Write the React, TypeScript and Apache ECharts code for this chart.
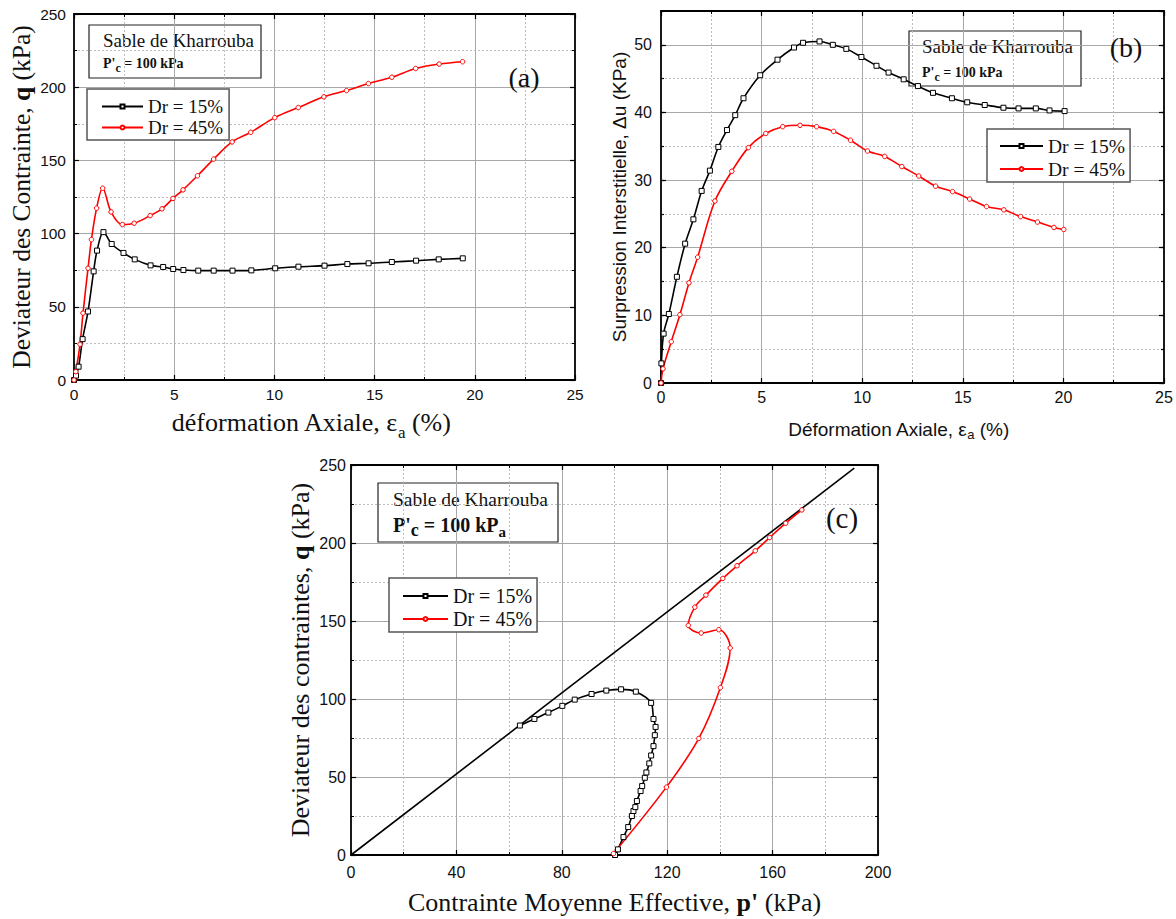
import React, { useEffect, useRef } from 'react';
import * as echarts from 'echarts';

// ---------- (a) Deviator stress vs axial strain ----------
const A_STRAIN_15 = [0, 0.1, 0.23, 0.43, 0.7, 0.98, 1.15, 1.47, 1.88, 2.47, 3.03, 3.82, 4.45, 4.95, 5.46, 6.2, 6.97, 7.91, 8.85, 10.04, 11.2, 12.5, 13.64, 14.7, 15.86, 17.07, 18.2, 19.4];
const A_Q_15 = [0, 3, 9.1, 27.9, 46.8, 74.2, 88.4, 101, 92.9, 86.8, 82.4, 78.3, 77.2, 75.8, 75.1, 74.7, 74.7, 74.7, 74.9, 76.3, 77.4, 78.1, 79.2, 79.7, 80.6, 81.5, 82.4, 83.1];
const A_STRAIN_45 = [0, 0.09, 0.3, 0.45, 0.7, 0.87, 1.13, 1.43, 1.85, 2.41, 3.0, 3.8, 4.39, 4.94, 5.44, 6.16, 6.97, 7.89, 8.82, 10.02, 11.19, 12.47, 13.6, 14.69, 15.86, 17.05, 18.22, 19.39];
const A_Q_45 = [0, 5.7, 24.4, 45.7, 76.3, 95.9, 117.4, 131, 114.8, 106.2, 107.1, 112.3, 116.9, 124, 129.9, 139.5, 150.9, 162.6, 169.2, 179.2, 186.1, 193.4, 197.7, 202.5, 206.8, 212.8, 215.8, 217.4];

// ---------- (b) Excess pore pressure vs axial strain ----------
const B_STRAIN_15 = [0, 0.02, 0.13, 0.39, 0.79, 1.2, 1.61, 2.02, 2.43, 2.85, 3.28, 3.69, 4.1, 4.93, 5.79, 6.61, 7.06, 7.88, 8.54, 9.21, 9.96, 10.71, 11.31, 12.06, 12.77, 13.52, 14.46, 15.22, 16.09, 17.02, 17.77, 18.63, 19.31, 20.06];
const B_DU_15 = [0, 2.9, 7.3, 10.2, 15.7, 20.6, 24.2, 28.4, 31.4, 34.9, 37.4, 39.6, 42.1, 45.5, 47.8, 49.6, 50.3, 50.5, 50.0, 49.4, 48.2, 46.9, 45.9, 44.9, 43.9, 42.9, 42.1, 41.5, 41.1, 40.7, 40.6, 40.6, 40.3, 40.2];
const B_STRAIN_45 = [0, 0.1, 0.51, 0.94, 1.39, 1.82, 2.68, 3.52, 4.34, 5.21, 6.05, 6.91, 7.73, 8.58, 9.42, 10.26, 11.12, 11.97, 12.81, 13.65, 14.49, 15.34, 16.18, 17.04, 17.87, 18.71, 19.53, 20.02];
const B_DU_45 = [0, 2.1, 6.1, 10.1, 14.8, 18.6, 26.9, 31.3, 34.8, 36.9, 37.9, 38.1, 37.9, 37.2, 35.9, 34.3, 33.5, 32.0, 30.6, 29.1, 28.3, 27.2, 26.1, 25.6, 24.6, 23.8, 23.0, 22.7];

// ---------- (c) Stress path q - p' ----------
const C_P_15 = [100.2, 101.3, 103.4, 105.2, 106.6, 107.2, 107.9, 108.5, 109.9, 110.5, 111.5, 112.1, 113.2, 113.9, 114.8, 115.3, 115.6, 114.8, 113.9, 108.1, 102.5, 96.9, 91.3, 84.9, 80.2, 74.9, 69.6, 64.1];
const C_Q_15 = [0, 3.6, 11.5, 17.9, 25, 28.2, 30.7, 34.6, 41, 44.2, 49.5, 52.9, 58.7, 63.8, 69.8, 76.8, 82.1, 87.2, 97.5, 104.7, 106.2, 105.4, 103.2, 99.6, 95.6, 91.3, 87.2, 83.0];
const C_P_45 = [99.6, 119.7, 132, 140.2, 143.9, 139.6, 132.9, 128, 130.5, 134.7, 141.1, 146.5, 153.4, 158.9, 165, 171.1];
const C_Q_45 = [0.9, 43.5, 74.7, 107.3, 132.7, 144.4, 142.3, 147.2, 158.9, 166.6, 177.3, 185.4, 195, 203.5, 212.7, 221.2];
const C_CSL_P = [0, 191];
const C_CSL_Q = [0, 248];

const NAME_15 = 'Dr = 15%';
const NAME_45 = 'Dr = 45%';

const SERIF = "'Liberation Serif', 'Times New Roman', serif";
const SANS = "'Liberation Sans', Arial, sans-serif";
const MAJOR = '#a8a8a8';
const MINOR = '#bdbdbd';

const zip = (xs: number[], ys: number[]) => xs.map((x, i) => [x, ys[i]]);

type AxOpt = {
  labels?: boolean; split?: boolean; minorSplit?: boolean; minor?: boolean; line?: boolean;
  tickLen?: number; splitType?: any; splitColor?: string; showMax?: boolean; fontSize?: number;
  margin?: number; z?: number; name?: string; nameGap?: number; nameRotate?: number; nameStyle?: any;
};

function axis(gridIndex: number, position: string, min: number, max: number, interval: number, o: AxOpt = {}) {
  return {
    type: 'value', gridIndex, position, min, max, interval,
    z: o.z ?? 0,
    axisLine: { show: o.line ?? true, onZero: false, lineStyle: { color: '#000', width: 1.8 } },
    axisTick: { show: true, inside: true, length: o.tickLen ?? 5, lineStyle: { color: '#000', width: 1.2 } },
    minorTick: { show: o.minor ?? true, splitNumber: 2, length: 3, lineStyle: { color: '#000', width: 1 } },
    axisLabel: {
      show: !!o.labels, color: '#111', fontFamily: SANS, fontSize: o.fontSize ?? 15.5,
      margin: o.margin ?? 7, showMaxLabel: o.showMax ?? true,
    },
    splitLine: {
      show: !!o.split, showMinLine: false, showMaxLine: false,
      lineStyle: { color: o.splitColor ?? MAJOR, width: 1, type: o.splitType ?? 'solid' },
    },
    minorSplitLine: { show: !!o.minorSplit, lineStyle: { color: MINOR, width: 1, type: [2, 2] } },
    name: o.name, nameLocation: 'middle', nameGap: o.nameGap, nameRotate: o.nameRotate,
    nameTextStyle: o.nameStyle,
  };
}

function series(name: string, xi: number, yi: number, data: number[][], color: string, symbol: string, size: number) {
  return {
    type: 'line', name, xAxisIndex: xi, yAxisIndex: yi, data,
    smooth: 0.35, symbol, symbolSize: size, showSymbol: true,
    lineStyle: { color, width: 1.6 },
    itemStyle: { color: '#fff', borderColor: color, borderWidth: 1 },
    emphasis: { disabled: true }, z: 3,
  };
}

function legend(left: number, top: number, padding: number[], itemWidth: number, fs: number, gap: number) {
  return {
    left, top, orient: 'vertical', selectedMode: false,
    data: [NAME_15, NAME_45],
    backgroundColor: '#fff', borderColor: '#555', borderWidth: 1.5, borderRadius: 0,
    padding, itemWidth, itemHeight: 5, itemGap: gap,
    textStyle: { fontFamily: SERIF, fontSize: fs, color: '#111' },
  };
}

function infoBox(x: number, y: number, w: number, h: number, tx: number, ty1: number, ty2: number, fs1: number, fs2: number, big: boolean) {
  const text = big ? "{b|P'}{s|c}{b| = 100 kP}{sa|a}" : "{b|P'}{s|c}{b| = 100 kPa}";
  return {
    type: 'group', z: 10,
    children: [
      { type: 'rect', shape: { x, y, width: w, height: h }, style: { fill: '#fff', stroke: '#222', lineWidth: 1.2 } },
      {
        type: 'text', x: tx, y: ty1,
        style: { text: 'Sable de Kharrouba', fontFamily: SERIF, fontSize: fs1, fill: '#111', verticalAlign: 'middle' },
      },
      {
        type: 'text', x: tx, y: ty2,
        style: {
          text, verticalAlign: 'middle', fill: '#111',
          rich: {
            b: { fontFamily: SERIF, fontWeight: 'bold', fontSize: fs2, lineHeight: fs2 + 8, fill: '#111' },
            s: { fontFamily: SERIF, fontWeight: 'bold', fontSize: fs2 - 2, lineHeight: fs2 - 4, verticalAlign: 'bottom', fill: '#111' },
            sa: { fontFamily: SERIF, fontWeight: 'bold', fontSize: fs2 - 5, lineHeight: fs2 + 2, verticalAlign: 'bottom', fill: '#111' },
          },
        },
      },
    ],
  };
}

function panelLabel(text: string, x: number, y: number, fs: number) {
  return {
    type: 'text', x, y, z: 10,
    style: { text, fontFamily: SERIF, fontSize: fs, fill: '#111', align: 'center', verticalAlign: 'middle' },
  };
}

const option: any = {
  animation: false,
  backgroundColor: '#fff',
  grid: [
    { left: 74, top: 14, width: 501, height: 366 },
    { left: 661, top: 11, width: 503, height: 372 },
    { left: 351, top: 465, width: 527, height: 390 },
  ],
  xAxis: [
    axis(0, 'bottom', 0, 25, 5, {
      labels: true, split: true, minorSplit: true, margin: 6,
      name: 'déformation Axiale, ε{sub|a} (%)', nameGap: 23,
      nameStyle: {
        fontFamily: SERIF, fontSize: 26, lineHeight: 38, color: '#111', padding: [0, 27, 0, 0],
        rich: { sub: { fontFamily: SERIF, fontSize: 17, lineHeight: 17, verticalAlign: 'bottom', color: '#111' } },
      },
    }),
    axis(0, 'top', 0, 25, 5, {}),
    axis(1, 'bottom', 0, 25, 5, {
      labels: true, split: true, minorSplit: true, margin: 6, fontSize: 16,
      name: 'Déformation Axiale, ε{sub|a} (%)', nameGap: 34,
      nameStyle: {
        fontFamily: SANS, fontSize: 19, lineHeight: 24, color: '#111', padding: [0, 28, 0, 0],
        rich: { sub: { fontFamily: SANS, fontSize: 13, lineHeight: 13, verticalAlign: 'bottom', color: '#111' } },
      },
    }),
    axis(1, 'top', 0, 25, 5, {}),
    axis(2, 'bottom', 0, 200, 40, {
      labels: true, split: true, minorSplit: true, margin: 9, fontSize: 16,
      name: "Contrainte Moyenne Effective, {b|p'} (kPa)", nameGap: 32,
      nameStyle: {
        fontFamily: SERIF, fontSize: 26, lineHeight: 30, color: '#111',
        rich: { b: { fontFamily: SERIF, fontWeight: 'bold', fontSize: 26, lineHeight: 30, color: '#111' } },
      },
    }),
    axis(2, 'top', 0, 200, 40, {}),
  ],
  yAxis: [
    axis(0, 'left', 0, 250, 50, {
      labels: true, split: true, minorSplit: true, margin: 8,
      name: 'Deviateur des Contrainte, {b|q} (kPa)', nameGap: 38, nameRotate: 90,
      nameStyle: {
        fontFamily: SERIF, fontSize: 25.5, lineHeight: 30, color: '#111',
        rich: { b: { fontFamily: SERIF, fontWeight: 'bold', fontSize: 25.5, lineHeight: 30, color: '#111' } },
      },
    }),
    axis(0, 'right', 0, 250, 50, {}),
    axis(1, 'left', 0, 55, 10, {
      labels: true, split: true, minor: false, showMax: false, margin: 9, fontSize: 16,
      name: 'Surpression Interstitielle, Δu (KPa)', nameGap: 29, nameRotate: 90,
      nameStyle: { fontFamily: SANS, fontSize: 19, lineHeight: 22, color: '#111' },
    }),
    axis(1, 'right', 0, 55, 10, { minor: false }),
    axis(2, 'left', 0, 250, 50, {
      labels: true, split: true, minorSplit: true, margin: 5, fontSize: 16,
      name: 'Deviateur des contraintes, {b|q} (kPa)', nameGap: 35, nameRotate: 90,
      nameStyle: {
        fontFamily: SERIF, fontSize: 26, lineHeight: 30, color: '#111',
        rich: { b: { fontFamily: SERIF, fontWeight: 'bold', fontSize: 26, lineHeight: 30, color: '#111' } },
      },
    }),
    axis(2, 'right', 0, 250, 50, {}),
    // (b) minor grid (every 5 kPa)
    axis(1, 'left', 0, 55, 5, { line: false, minor: false, tickLen: 3, split: true, splitType: [2, 2], splitColor: MINOR, z: -1 }),
    axis(1, 'right', 0, 55, 5, { line: false, minor: false, tickLen: 3, z: -1 }),
  ],
  legend: [
    legend(87, 89, [8, 6, 3, 14], 41, 19, 2),
    legend(987, 129, [7, 5, 3, 12], 43, 19.5, 3),
    legend(389, 578, [8, 5, 3, 13], 45, 20, 3),
  ],
  graphic: [
    infoBox(89, 25, 172, 53, 103, 40, 63, 19, 14, false),
    infoBox(909, 31, 172, 55, 922, 46, 72, 19, 14, false),
    infoBox(378, 483, 180, 59, 393, 499, 525, 19.5, 20, true),
    panelLabel('(a)', 524, 77, 28),
    panelLabel('(b)', 1126, 47, 28),
    panelLabel('(c)', 842, 518, 29),
  ],
  series: [
    series(NAME_15, 0, 0, zip(A_STRAIN_15, A_Q_15), '#000', 'rect', 5),
    series(NAME_45, 0, 0, zip(A_STRAIN_45, A_Q_45), '#ff0000', 'circle', 4.5),
    series(NAME_15, 2, 2, zip(B_STRAIN_15, B_DU_15), '#000', 'rect', 5),
    series(NAME_45, 2, 2, zip(B_STRAIN_45, B_DU_45), '#ff0000', 'circle', 4.5),
    {
      type: 'line', name: 'CSL', xAxisIndex: 4, yAxisIndex: 4, data: zip(C_CSL_P, C_CSL_Q),
      symbol: 'none', lineStyle: { color: '#000', width: 1.6 }, emphasis: { disabled: true }, z: 3,
    },
    series(NAME_15, 4, 4, zip(C_P_15, C_Q_15), '#000', 'rect', 5),
    series(NAME_45, 4, 4, zip(C_P_45, C_Q_45), '#ff0000', 'circle', 4.5),
  ],
};

export default function App() {
  const ref = useRef<HTMLDivElement>(null);
  useEffect(() => {
    document.body.style.margin = '0';
    const chart = echarts.init(ref.current as HTMLDivElement, null, { renderer: 'svg' });
    chart.setOption(option);
    return () => chart.dispose();
  }, []);
  return <div ref={ref} style={{ width: 1176, height: 919, background: '#fff' }} />;
}
